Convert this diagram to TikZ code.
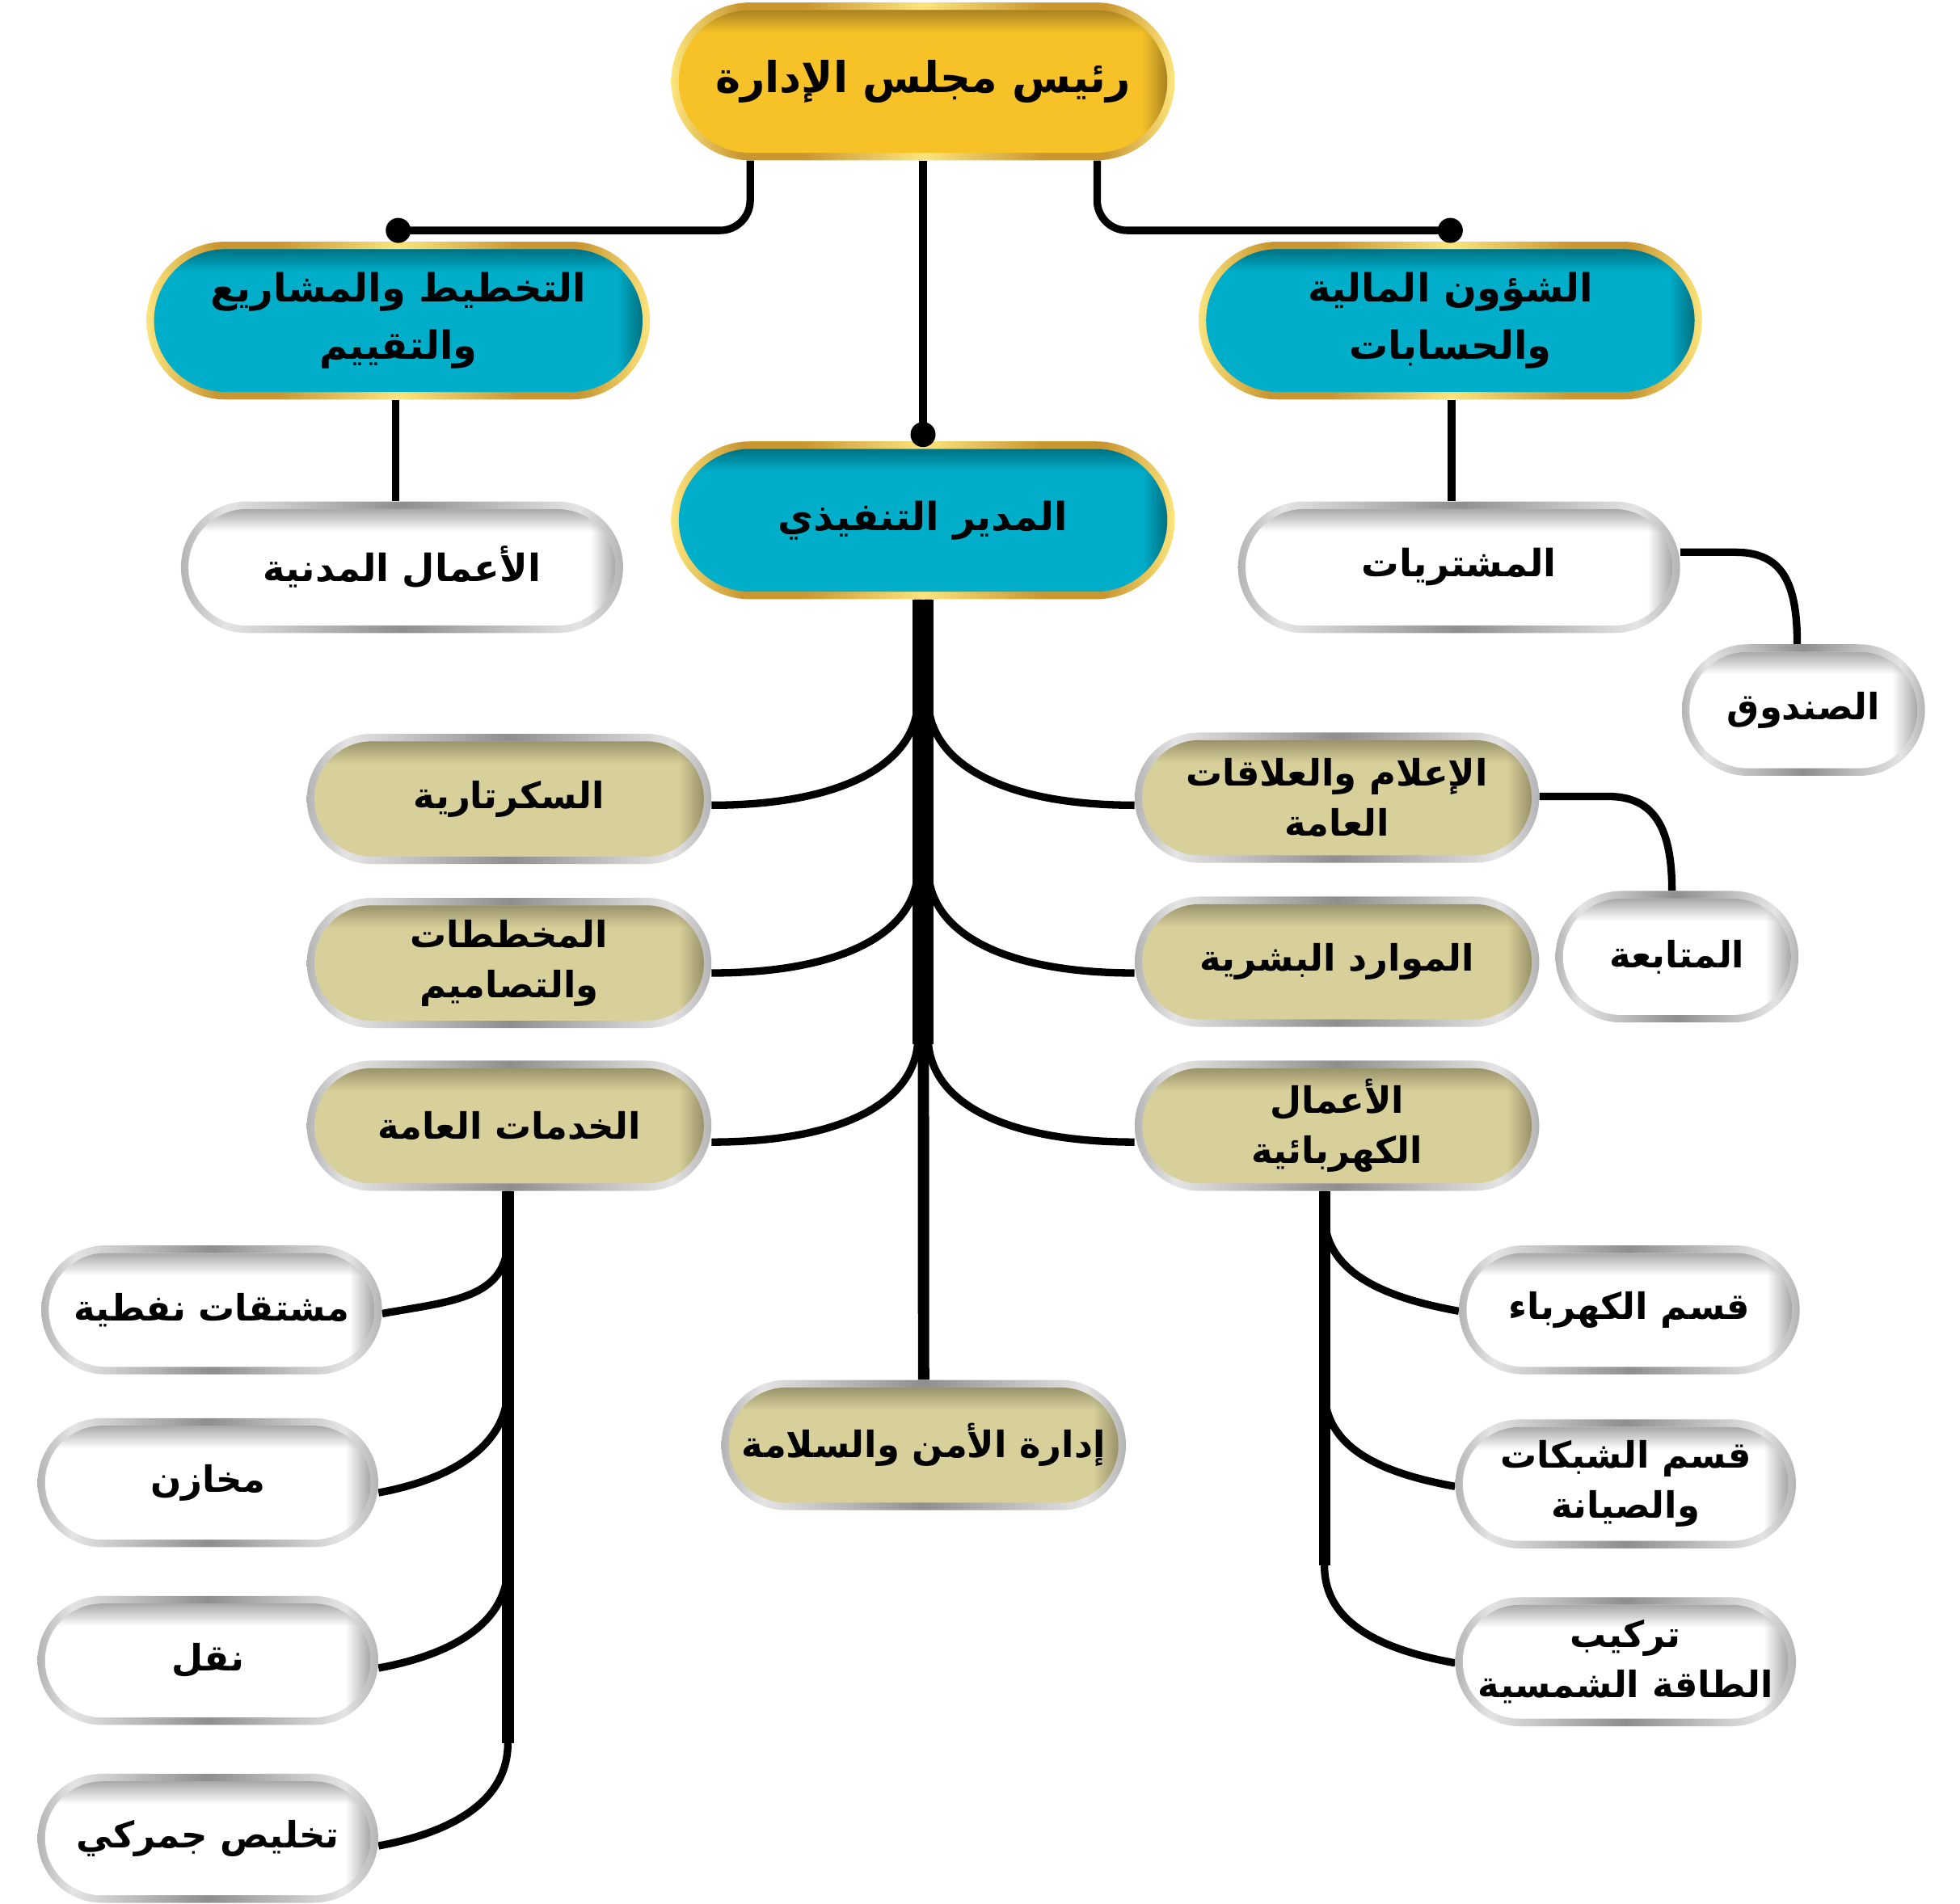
\documentclass[tikz,border=0pt]{standalone}
\usepackage{fontspec}
\newfontfamily\arabicfont[Script=Arabic]{DejaVu Sans}
\TeXXeTstate=1
\usetikzlibrary{fadings,backgrounds}
\newcommand\ar[1]{\beginR #1\endR}
\definecolor{gL}{HTML}{FCE47C}
\definecolor{gD}{HTML}{C99630}
\definecolor{sL}{HTML}{E4E4E4}
\definecolor{sD}{HTML}{8E8E8E}
\definecolor{sM}{HTML}{B4B4B4}
\definecolor{yellowF}{HTML}{F6C228}
\definecolor{yellowS}{HTML}{8F6E22}
\definecolor{blueF}{HTML}{00AECA}
\definecolor{blueS}{HTML}{005E6C}
\definecolor{khakiF}{HTML}{D8D09A}
\definecolor{khakiS}{HTML}{857F5C}
\definecolor{whiteS}{HTML}{8C8C8C}
\pgfdeclarehorizontalshading{goldband}{100bp}{color(0bp)=(gL); color(25bp)=(gL); color(32bp)=(gD); color(38bp)=(gD); color(50bp)=(gL); color(62bp)=(gD); color(68bp)=(gD); color(75bp)=(gL); color(100bp)=(gL)}
\pgfdeclarehorizontalshading{silverband}{100bp}{color(0bp)=(sM); color(25bp)=(sM); color(30bp)=(sL); color(50bp)=(sD); color(70bp)=(sL); color(75bp)=(sM); color(100bp)=(sM)}
\tikzset{
  pillh/.store in=\pillh,
  pillfill/.store in=\pillfill,
  pillshadow/.store in=\pillshadow,
  pill/.style n args={5}{shape=rectangle, inner sep=0pt, align=center, text=black,
    minimum width=#1pt, minimum height=#2pt, rounded corners=#2*0.5pt, pillh=#2,
    shade, shading=#3, pillfill=#4, pillshadow=#5,
    path picture={
      \begin{scope}
        \clip[rounded corners={\pillh*0.5pt-6pt}] ([shift={(6pt,-6pt)}]path picture bounding box.north west) rectangle ([shift={(-6pt,6pt)}]path picture bounding box.south east);
        \fill[\pillfill, sharp corners] (path picture bounding box.north west) rectangle (path picture bounding box.south east);
        \fill[\pillshadow, sharp corners, path fading=west] ([xshift=-26pt]path picture bounding box.north east) rectangle (path picture bounding box.south east);
        \fill[\pillshadow, sharp corners, path fading=south] (path picture bounding box.north west) rectangle ([yshift=-24pt]path picture bounding box.north east);
      \end{scope}
    }},
  ypill/.style={pill={402}{126}{goldband}{yellowF}{yellowS}, font=\arabicfont\bfseries\fontsize{34}{46}\selectfont},
  bpill/.style={pill={402}{126}{goldband}{blueF}{blueS}, font=\arabicfont\bfseries\fontsize{31}{46}\selectfont},
  kpill/.style={pill={323}{104}{silverband}{khakiF}{khakiS}, font=\arabicfont\bfseries\fontsize{29}{40}\selectfont},
  wwide/.style={pill={353}{105}{silverband}{white}{whiteS}, font=\arabicfont\bfseries\fontsize{30}{40}\selectfont},
  wsmall/.style={pill={194}{105}{silverband}{white}{whiteS}, font=\arabicfont\bfseries\fontsize{29}{40}\selectfont},
  wleaf/.style={pill={272}{103}{silverband}{white}{whiteS}, font=\arabicfont\bfseries\fontsize{29}{40}\selectfont},
  dot/.style={circle, fill=black, inner sep=0pt, minimum size=20pt},
  conn/.style={draw=black, line width=6pt, line join=round},
}
\begin{document}
\begin{tikzpicture}[x=1pt, y=-1pt]
\useasboundingbox (0,0) rectangle (1565,1520);
% nodes
\node[ypill] (top) at (737,65) {\ar{رئيس مجلس الإدارة}};
\node[bpill] (plan) at (318,256) {\ar{التخطيط والمشاريع}\\\ar{والتقييم}};
\node[bpill] (fin) at (1158,256) {\ar{الشؤون المالية}\\\ar{والحسابات}};
\node[bpill] (exec) at (737,415.5) {\ar{المدير التنفيذي}};
\node[wwide] (civil) at (321,453) {\ar{الأعمال المدنية}};
\node[wwide] (purch) at (1165,453) {\ar{المشتريات}};
\node[wsmall] (fund) at (1440,567) {\ar{الصندوق}};
\node[kpill] (sec) at (406.5,638) {\ar{السكرتارية}};
\node[kpill] (media) at (1067.5,637) {\ar{الإعلام والعلاقات}\\\ar{العامة}};
\node[wsmall] (follow) at (1339,764) {\ar{المتابعة}};
\node[kpill] (plans) at (406.5,769) {\ar{المخططات}\\\ar{والتصاميم}};
\node[kpill] (hr) at (1067.5,768) {\ar{الموارد البشرية}};
\node[kpill] (gen) at (406.5,899) {\ar{الخدمات العامة}};
\node[kpill] (elec) at (1067.5,899) {\ar{الأعمال}\\\ar{الكهربائية}};
\node[wleaf] (oil) at (169,1046) {\ar{مشتقات نفطية}};
\node[wleaf] (stores) at (166,1184) {\ar{مخازن}};
\node[wleaf] (trans) at (166,1326) {\ar{نقل}};
\node[wleaf] (cust) at (166,1468) {\ar{تخليص جمركي}};
\node[kpill] (safe) at (737.5,1154) {\ar{إدارة الأمن والسلامة}};
\node[wleaf] (el1) at (1301,1046) {\ar{قسم الكهرباء}};
\node[wleaf] (el2) at (1298,1185) {\ar{قسم الشبكات}\\\ar{والصيانة}};
\node[wleaf] (el3) at (1298,1327) {\ar{تركيب}\\\ar{الطاقة الشمسية}};
\node[dot] (dL) at (318,184) {};
\node[dot] (dR) at (1158,184) {};
\node[dot] (dC) at (737,347) {};
\begin{pgfonlayer}{background}
\fill[white] (0,0) rectangle (1565,1520);
% board to first level
\draw[conn, rounded corners=24pt] ([xshift=-138pt]top.south) |- (dL.center);
\draw[conn, rounded corners=24pt] ([xshift=139pt]top.south) |- (dR.center);
\draw[conn] (top.south) -- (dC.center);
\draw[conn] (dL.center) -- (plan.north);
\draw[conn] (dR.center) -- (fin.north);
\draw[conn] (dC.center) -- (exec.north);
\draw[conn] ([xshift=-2pt]plan.south) -- ([xshift=-2pt]plan.south |- civil.north);
\draw[conn] ([xshift=1pt]fin.south) -- ([xshift=1pt]fin.south |- purch.north);
\draw[conn] ([yshift=12pt]purch.east) -- ++(44,0) .. controls +(38,0) and +(0,-48) .. ([xshift=-5pt]fund.north);
\draw[conn] ([yshift=1pt]media.east) -- ++(55,0) .. controls +(38,0) and +(0,-48) .. ([xshift=-4pt]follow.north);
% executive trunk
\draw[line width=17pt] (exec.south) -- ++(0,355);
\draw[line width=9pt] (exec.south) -- (safe.north);
\draw[conn] ([xshift=-4pt]exec.south) -- ++(0,79) .. controls +(0,52) and +(105,0) .. ([yshift=-5pt]sec.east);
\draw[conn] ([xshift=-4pt]exec.south) -- ++(0,214) .. controls +(0,52) and +(105,0) .. ([yshift=-8pt]plans.east);
\draw[conn] ([xshift=-4pt]exec.south) -- ++(0,349) .. controls +(0,52) and +(105,0) .. ([yshift=-13pt]gen.east);
\draw[conn] ([xshift=4pt]exec.south) -- ++(0,79) .. controls +(0,52) and +(-105,0) .. ([yshift=-6pt]media.west);
\draw[conn] ([xshift=4pt]exec.south) -- ++(0,214) .. controls +(0,52) and +(-105,0) .. ([yshift=-9pt]hr.west);
\draw[conn] ([xshift=4pt]exec.south) -- ++(0,349) .. controls +(0,52) and +(-105,0) .. ([yshift=-13pt]elec.west);
% general services
\draw[line width=10pt] ([xshift=-1pt]gen.south) -- ++(0,441);
\draw[conn] ([xshift=-1pt]gen.south) -- ++(0,38) .. controls +(0,48) and +(55,-10) .. ([yshift=-3pt]oil.east);
\draw[conn] ([xshift=-1pt]gen.south) -- ++(0,157) .. controls +(0,48) and +(55,-10) .. ([yshift=-8pt]stores.east);
\draw[conn] ([xshift=-1pt]gen.south) -- ++(0,299) .. controls +(0,48) and +(55,-10) .. ([yshift=-6pt]trans.east);
\draw[conn] ([xshift=-1pt]gen.south) -- ++(0,441) .. controls +(0,48) and +(55,-10) .. ([yshift=-6pt]cust.east);
% electrical works
\draw[line width=9pt] ([xshift=-10pt]elec.south) -- ++(0,299);
\draw[conn] ([xshift=-10pt]elec.south) -- ++(0,19) .. controls +(0,48) and +(-55,-10) .. ([yshift=-1pt]el1.west);
\draw[conn] ([xshift=-10pt]elec.south) -- ++(0,159) .. controls +(0,48) and +(-55,-10) .. ([yshift=-2pt]el2.west);
\draw[conn] ([xshift=-10pt]elec.south) -- ++(0,299) .. controls +(0,48) and +(-55,-10) .. ([yshift=-1pt]el3.west);
\end{pgfonlayer}
\end{tikzpicture}
\end{document}
